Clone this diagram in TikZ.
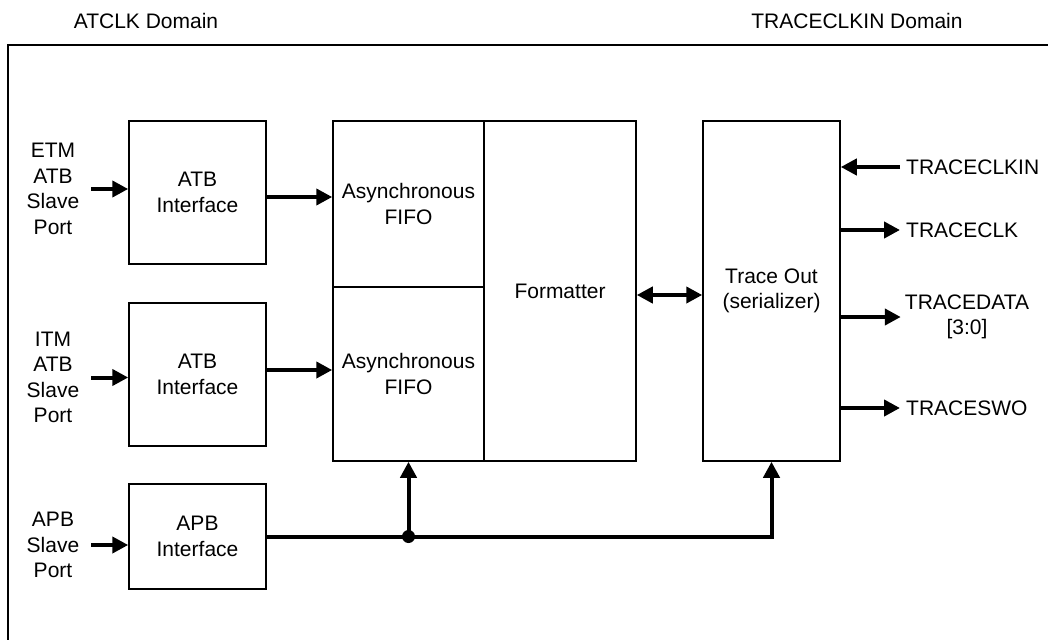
\documentclass[tikz,border=0pt]{standalone}
\usepackage{fontspec}
\setmainfont{Liberation Sans}
\usetikzlibrary{arrows.meta,calc,positioning}

\begin{document}
\begin{tikzpicture}[x=1pt,y=-1pt,>={Triangle[length=16pt,width=16pt]},
    font=\fontsize{21}{25.5}\selectfont,
    blk/.style={draw,line width=1.5pt,inner sep=0pt,align=center},
    lbl/.style={inner sep=0pt,align=center},
    sig/.style={->,line width=4pt}]
  \useasboundingbox (0,0) rectangle (1048,639);
  \draw[line width=2pt] (1050,45) -- (8,45) -- (8,641);
  \node[lbl] (atdom) at (146,21) {ATCLK Domain};
  \node[lbl] (trdom) at (857,21) {TRACECLKIN Domain};
  % ATCLK side
  \node[blk,minimum width=137pt,minimum height=143pt] (etmif) at (197.5,192.5) {ATB\\Interface};
  \node[blk,minimum width=137pt,minimum height=143pt] (itmif) at (197.5,374.5) {ATB\\Interface};
  \node[blk,minimum width=137pt,minimum height=105pt] (apbif) at (197.5,536.5) {APB\\Interface};
  \node[lbl] (etm) at (53,189) {ETM\\ATB\\Slave\\Port};
  \node[lbl] (itm) at (53,377.5) {ITM\\ATB\\Slave\\Port};
  \node[lbl] (apb) at (53,545) {APB\\Slave\\Port};
  \node[blk,minimum width=151pt,minimum height=166pt] (fifoa) at (408.5,204) {Asynchronous\\FIFO};
  \node[blk,minimum width=151pt,minimum height=174pt] (fifob) at (408.5,374) {Asynchronous\\FIFO};
  \node[blk,minimum width=152pt,minimum height=340pt] (fmt) at (560,291) {Formatter};
  % TRACECLKIN side
  \node[blk,minimum width=137pt,minimum height=340pt] (trace) at (771.5,291) {Trace Out\\(serializer)};
  \node[lbl,anchor=west] (clkin) at (906,167) {TRACECLKIN};
  \node[lbl,anchor=west] (tclk) at (906,230) {TRACECLK};
  \node[lbl] (tdata) at (967,317) {TRACEDATA\\{}[3:0]};
  \node[lbl,anchor=west] (tswo) at (906,408) {TRACESWO};
  % connections
  \draw[sig,shorten <=12pt] (etm.east) -- (etm.east -| etmif.west);
  \draw[sig,shorten <=12pt] (itm.east) -- (itm.east -| itmif.west);
  \draw[sig,shorten <=12pt] (apb.east) -- (apb.east -| apbif.west);
  \draw[sig] ([yshift=-4.5pt]etmif.east) -- ([yshift=-4.5pt]etmif.east -| fifoa.west);
  \draw[sig] ([yshift=4.5pt]itmif.east) -- ([yshift=4.5pt]itmif.east -| fifob.west);
  \draw[sig,<->] ([yshift=-4pt]fmt.east) -- ([yshift=-4pt]fmt.east -| trace.west);
  \coordinate (tap) at (fifob.south |- apbif.east);
  \draw[sig] (apbif.east) -- (trace.south |- apbif.east) -- (trace.south);
  \draw[sig] (tap) -- (fifob.south);
  \fill (tap) circle (6.5pt);
  \draw[sig,shorten <=6pt] (clkin.west) -- (clkin.west -| trace.east);
  \draw[sig,shorten >=6pt] (tclk.west -| trace.east) -- (tclk.west);
  \draw[sig,shorten >=4pt] (tdata.west -| trace.east) -- (tdata.west);
  \draw[sig,shorten >=6pt] (tswo.west -| trace.east) -- (tswo.west);
\end{tikzpicture}
\end{document}
